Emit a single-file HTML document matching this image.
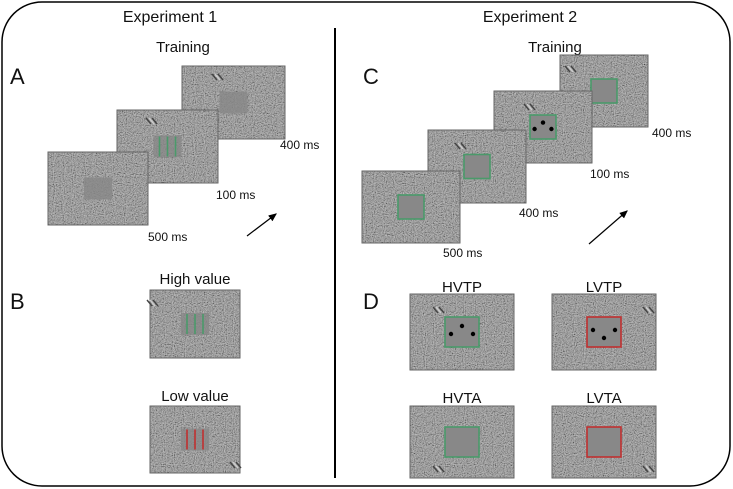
<!DOCTYPE html>
<html><head><meta charset="utf-8"><style>
body{margin:0;background:#fff}
svg{display:block;font-family:"Liberation Sans",sans-serif}
</style></head><body>
<svg width="733" height="489" viewBox="0 0 733 489">
<defs>
<filter id="nz" x="0" y="0" width="100%" height="100%">
<feTurbulence type="fractalNoise" baseFrequency="0.9" numOctaves="1" seed="3" result="t"/>
<feColorMatrix in="t" type="saturate" values="0" result="g"/>
<feComponentTransfer in="g" result="c"><feFuncR type="linear" slope="2.6" intercept="-0.8"/><feFuncG type="linear" slope="2.6" intercept="-0.8"/><feFuncB type="linear" slope="2.6" intercept="-0.8"/><feFuncA type="linear" slope="0" intercept="1"/></feComponentTransfer>
</filter>
<marker id="ah" markerWidth="8" markerHeight="8" refX="6" refY="4" orient="auto"><path d="M0,1 L7,4 L0,7 Z" fill="#000"/></marker>
</defs>
<rect x="2" y="2" width="728" height="484" rx="40" fill="#fff" stroke="#000" stroke-width="1.5"/>
<line x1="335" y1="28" x2="335" y2="478" stroke="#000" stroke-width="2"/>
<g font-size="16" fill="#111" text-anchor="middle">
<text x="170" y="22">Experiment 1</text>
<text x="530" y="22">Experiment 2</text>
<text x="183" y="52" font-size="15">Training</text>
<text x="555" y="52" font-size="15">Training</text>
<text x="195" y="284" font-size="15">High value</text>
<text x="195" y="401" font-size="15">Low value</text>
<text x="462" y="292" font-size="15">HVTP</text>
<text x="604" y="292" font-size="15">LVTP</text>
<text x="462" y="403" font-size="15">HVTA</text>
<text x="604" y="403" font-size="15">LVTA</text>
</g>
<g font-size="22" fill="#111">
<text x="10" y="84">A</text>
<text x="10" y="309">B</text>
<text x="363" y="84">C</text>
<text x="363" y="309">D</text>
</g>
<g font-size="12" fill="#111">
<text x="280" y="149">400 ms</text>
<text x="216" y="199">100 ms</text>
<text x="148" y="241">500 ms</text>
<text x="652" y="137">400 ms</text>
<text x="590" y="178">100 ms</text>
<text x="519" y="217">400 ms</text>
<text x="443" y="257">500 ms</text>
</g>
<line x1="247" y1="236" x2="276" y2="214" stroke="#000" stroke-width="1.2" marker-end="url(#ah)"/>
<line x1="589" y1="244" x2="627" y2="211" stroke="#000" stroke-width="1.2" marker-end="url(#ah)"/>
<g id="screens"></g>
</svg>
<script>
const g=document.getElementById('screens');
const NS='http://www.w3.org/2000/svg';
function el(t,a,p){const e=document.createElementNS(NS,t);for(const k in a)e.setAttribute(k,a[k]);(p||g).appendChild(e);return e;}
const screens=[
[182,66,103,73,'a-screen-400','fill',null,0,[212,74]],
[117,110,101,73,'a-screen-100','lines','#4a9a6a',0,[146,118]],
[48,152,100,73,'a-screen-500','fill',null,0,null],
[150,290,90,68,'b-high-value-screen','lines','#4a9a6a',0,[147,300]],
[150,406,90,67,'b-low-value-screen','lines','#c03030',0,[230,462]],
[560,55,88,72,'c-screen-400a','box','#4a9a6a',0,[565,66]],
[494,91,98,72,'c-screen-100','box','#4a9a6a',1,[524,104]],
[428,130,98,73,'c-screen-400b','box','#4a9a6a',0,[455,143]],
[362,171,98,72,'c-screen-500','box','#4a9a6a',0,null],
[410,294,104,76,'d-hvtp-screen','box','#4a9a6a',1,[433,307]],
[552,294,104,76,'d-lvtp-screen','box','#c03030',2,[643,307]],
[410,406,104,72,'d-hvta-screen','box','#4a9a6a',0,[433,466]],
[552,406,104,72,'d-lvta-screen','box','#c03030',0,[643,466]]
];
screens.forEach(s=>{
 const [x,y,w,h,name,type,col,dots,gab]=s;
 const grp=el('g',{});
 
 
 el('rect',{x:x,y:y,width:w,height:h,fill:'#858585'},grp);
 el('rect',{x:x,y:y,width:w,height:h,filter:'url(#nz)',opacity:'0.45'},grp);
 el('rect',{x:x,y:y,width:w,height:h,fill:'none',stroke:'#666','stroke-width':'1'},grp);
 const cx=x+w/2,cy=y+h/2;
 if(type=='fill'){el('rect',{x:cx-14,y:cy-11,width:28,height:22,fill:'#878787',opacity:'0.8'},grp);}
 if(type=='lines'){el('rect',{x:cx-14,y:cy-11,width:28,height:22,fill:'#878787',opacity:'0.8'},grp);
   [-8,0,8].forEach(d=>el('line',{x1:cx+d,y1:cy-10,x2:cx+d,y2:cy+10,stroke:col,'stroke-width':'1.6'},grp));}
 if(type=='box'){const bw=w>100?34:26,bh=w>100?30:24;
   el('rect',{x:cx-bw/2,y:cy-bh/2,width:bw,height:bh,fill:'#888',stroke:col,'stroke-width':'1.6'},grp);
   if(dots==1){[[-11,0],[0,-8],[11,0]].forEach(p=>el('circle',{cx:cx+p[0]*(bw/34),cy:cy+p[1]*(bh/30)+2,r:2.2,fill:'#000'},grp));}
   if(dots==2){[[-11,-2],[0,6],[11,-2]].forEach(p=>el('circle',{cx:cx+p[0],cy:cy+p[1],r:2.2,fill:'#000'},grp));}
 }
 if(gab){[0,3,6].forEach(d=>el('line',{x1:gab[0]+d,y1:gab[1],x2:gab[0]+d+5,y2:gab[1]+6,stroke:d==3?'#ccc':'#444','stroke-width':'1.4'},grp));}
});
</script>
</body></html>
